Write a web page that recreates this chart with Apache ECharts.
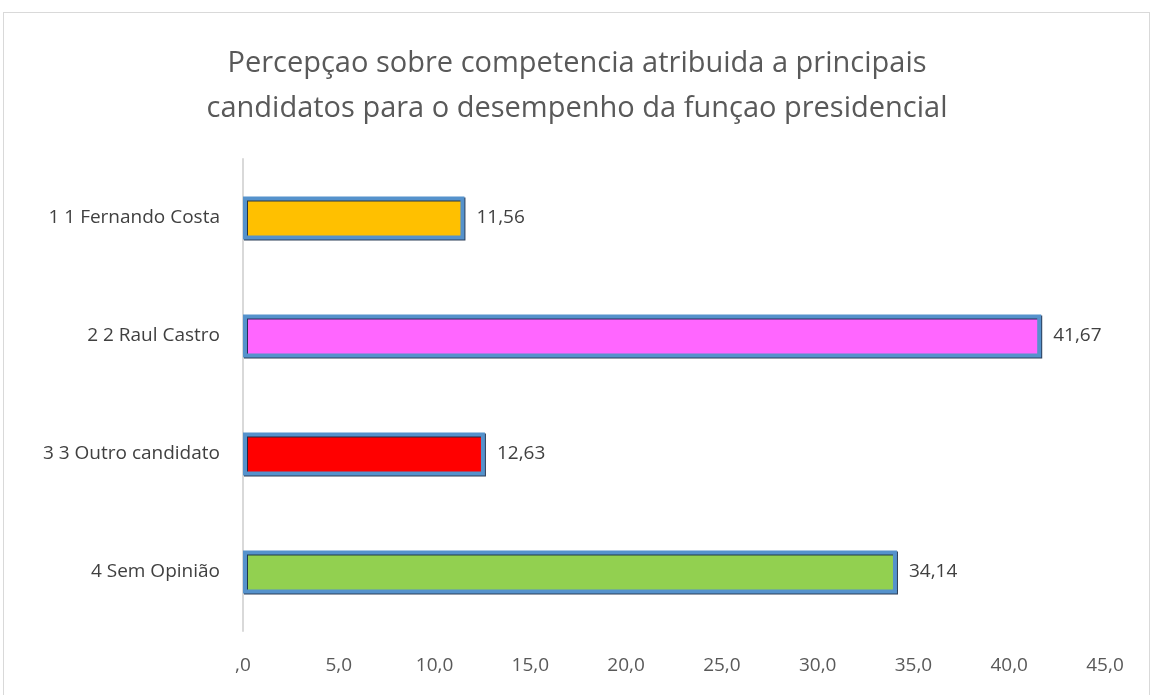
<!DOCTYPE html>
<html><head><meta charset="utf-8">
<script src="https://cdn.jsdelivr.net/npm/echarts@6/dist/echarts.min.js"></script>
<style>
html,body{margin:0;padding:0;background:#fff;width:1154px;height:695px;overflow:hidden;}
#frame{position:absolute;left:3px;top:12px;width:1147px;height:700px;border:1px solid #d9d9d9;box-sizing:border-box;}
#c{position:absolute;left:0;top:0;width:1154px;height:695px;}
</style></head>
<body><div id="frame"></div><div id="c"></div>
<script>
const categories = ["1 1 Fernando Costa", "2 2 Raul Castro", "3 3 Outro candidato", "4 Sem Opinião"];
const values = [11.56, 41.67, 12.63, 34.14];
const barColors = ["#ffc000", "#ff66ff", "#ff0000", "#92d050"];
const titleText = "Percepçao sobre competencia atribuida a principais\ncandidatos para o desempenho da funçao presidencial";

const chart = echarts.init(document.getElementById('c'));
const fmt = v => v.toFixed(2).replace('.', ',');
chart.setOption({
  animation: false,
  title: {
    text: titleText, left: 'center', top: 36,
    textStyle: {fontFamily: 'Open Sans', fontSize: 29, fontWeight: 'normal', color: '#595959', lineHeight: 45}
  },
  grid: {left: 243, right: 49, top: 159, bottom: 64},
  xAxis: {
    type: 'value', min: 0, max: 45, interval: 5,
    axisLine: {show: false}, axisTick: {show: false}, splitLine: {show: false},
    axisLabel: {
      color: '#595959', fontFamily: 'Open Sans', fontSize: 19, margin: 25,
      formatter: v => v === 0 ? ',0' : v.toFixed(1).replace('.', ',')
    }
  },
  yAxis: {
    type: 'category', data: categories, inverse: true,
    axisLine: {show: true, lineStyle: {color: '#d9d9d9', width: 2}},
    axisTick: {show: false},
    axisLabel: {color: '#404040', fontFamily: 'Open Sans', fontSize: 19, margin: 23}
  },
  series: [{
    type: 'bar', barWidth: 43,
    data: values.map((v, i) => ({value: v, itemStyle: {color: barColors[i]}})),
    itemStyle: {borderColor: '#5592cc', borderWidth: 4, shadowColor: 'rgba(20,40,70,0.9)', shadowOffsetY: 1, shadowOffsetX: 1, shadowBlur: 0},
    label: {show: true, position: 'right', distance: 12, color: '#404040', fontFamily: 'Open Sans', fontSize: 19, formatter: p => fmt(p.value)}
  }]
});
</script></body></html>
